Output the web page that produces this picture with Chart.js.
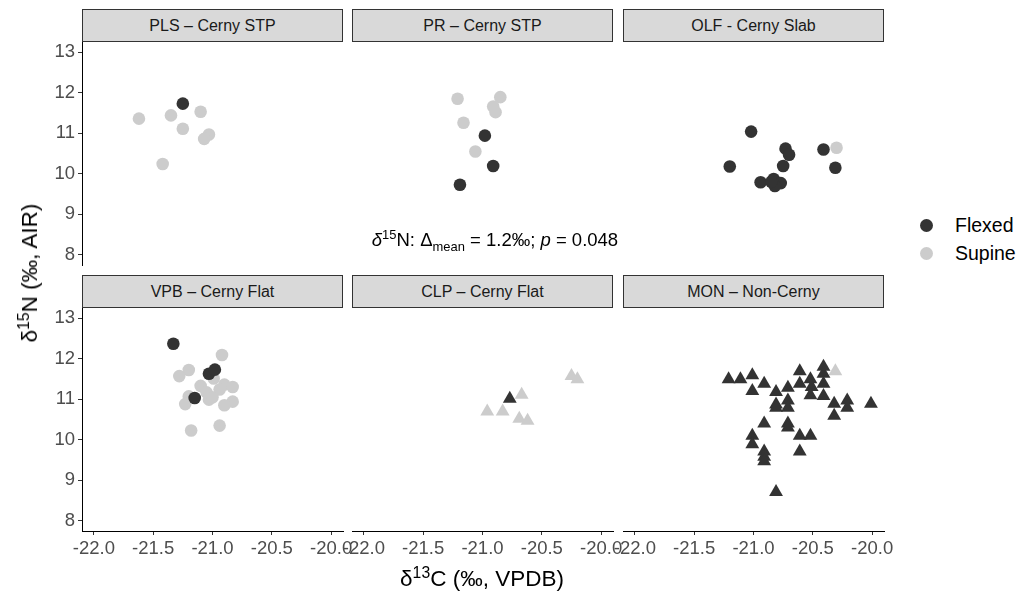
<!DOCTYPE html>
<html>
<head>
<meta charset="utf-8">
<script src="https://cdn.jsdelivr.net/npm/chart.js@4.4.0/dist/chart.umd.min.js"></script>
<style>
  body { margin: 0; width: 1019px; height: 594px; background: #fff; position: relative; overflow: hidden;
         font-family: "Liberation Sans", Arial, sans-serif; }
  canvas { position: absolute; }
  .strip { position: absolute; box-sizing: border-box; background: #d9d9d9; border: 1px solid #333;
           font-size: 16px; color: #1a1a1a; display: flex; align-items: center; justify-content: center; }
  .txt { position: absolute; white-space: nowrap; color: #000; }
  sup, sub { font-size: 0.7em; line-height: 0; }
  .key { position: absolute; width: 13px; height: 13px; border-radius: 50%; }
</style>
</head>
<body>
<script>
// d13C / d15N pairs per site and burial position
var plsFlexed = [[-21.25, 11.73]];
var plsSupine = [[-21.62, 11.36], [-21.35, 11.44], [-21.10, 11.53], [-21.25, 11.11],
                 [-21.03, 10.97], [-21.07, 10.86], [-21.42, 10.24]];

var prFlexed = [[-20.98, 10.94], [-20.91, 10.19], [-21.19, 9.73]];
var prSupine = [[-21.21, 11.85], [-20.85, 11.89], [-20.91, 11.66], [-20.89, 11.52],
                [-21.16, 11.26], [-21.06, 10.55]];

var olfFlexed = [[-21.02, 11.04], [-20.73, 10.62], [-20.70, 10.47], [-20.41, 10.60],
                 [-21.20, 10.18], [-20.75, 10.19], [-20.31, 10.15], [-20.94, 9.79],
                 [-20.83, 9.87], [-20.77, 9.77], [-20.82, 9.70], [-20.85, 9.80]];
var olfSupine = [[-20.30, 10.64]];

var vpbFlexed = [[-21.33, 12.37], [-21.03, 11.63], [-20.98, 11.73], [-21.15, 11.03]];
var vpbSupine = [[-20.92, 12.09], [-21.20, 11.72], [-21.28, 11.57], [-20.99, 11.51],
                 [-21.10, 11.33], [-20.90, 11.36], [-20.83, 11.30], [-20.94, 11.24],
                 [-21.05, 11.17], [-21.20, 11.07], [-21.03, 10.99], [-21.00, 11.05],
                 [-20.83, 10.94], [-20.90, 10.85], [-21.23, 10.88], [-20.94, 10.35],
                 [-21.18, 10.23]];

var clpFlexed = [[-20.77, 11.01]];
var clpSupine = [[-20.25, 11.57], [-20.20, 11.49], [-20.67, 11.11], [-20.96, 10.70],
                 [-20.83, 10.70], [-20.69, 10.52], [-20.62, 10.47]];

var monFlexed = [[-21.21, 11.49], [-21.11, 11.49], [-21.01, 11.59], [-20.91, 11.38],
                 [-21.01, 11.20], [-20.81, 11.18], [-20.71, 11.28], [-20.61, 11.69],
                 [-20.61, 11.38], [-20.52, 11.49], [-20.51, 11.30], [-20.52, 11.10],
                 [-20.41, 11.80], [-20.41, 11.63], [-20.41, 11.38], [-20.41, 11.08],
                 [-20.71, 10.97], [-20.81, 10.87], [-20.71, 10.79], [-20.81, 10.79],
                 [-20.32, 10.89], [-20.21, 10.97], [-20.21, 10.79], [-20.32, 10.59],
                 [-20.01, 10.89], [-20.91, 10.40], [-20.71, 10.40], [-20.71, 10.30],
                 [-20.61, 10.10], [-20.52, 10.10], [-21.01, 10.10], [-21.01, 9.89],
                 [-20.61, 9.71], [-20.91, 9.71], [-20.91, 9.58], [-20.91, 9.47],
                 [-20.81, 8.71]];
var monSupine = [[-20.31, 11.69]];

var panelTitles = ['PLS \u2013 Cerny STP', 'PR \u2013 Cerny STP', 'OLF - Cerny Slab',
                   'VPB \u2013 Cerny Flat', 'CLP \u2013 Cerny Flat', 'MON \u2013 Non-Cerny'];
var panelFlexed = [plsFlexed, prFlexed, olfFlexed, vpbFlexed, clpFlexed, monFlexed];
var panelSupine = [plsSupine, prSupine, olfSupine, vpbSupine, clpSupine, monSupine];
var panelShapes = ['circle', 'circle', 'circle', 'circle', 'triangle', 'triangle'];

var xTicks = [-22.0, -21.5, -21.0, -20.5, -20.0];
var xTickLabels = ['-22.0', '-21.5', '-21.0', '-20.5', '-20.0'];
var yTicks = [8, 9, 10, 11, 12, 13];
var yTickLabels = ['8', '9', '10', '11', '12', '13'];
var xRange = [-22.1, -19.9];
var yRange = [7.75, 13.25];

var DARK = '#333333';
var LIGHT = '#cccccc';

// panel geometry
var colLeft = [82, 352, 623];
var rowTop = [42, 308];
var stripTop = [9, 275];
var panelW = 261, panelH = 223;
var PAD = 18, YAXIS_W = 44, XAXIS_H = 34;

var tickFont = {family: '"Liberation Sans", Arial, sans-serif', size: 18.5};

function makePanel(i) {
  var col = i % 3, row = Math.floor(i / 3);
  var showY = col === 0, showX = row === 1;

  var strip = document.createElement('div');
  strip.className = 'strip';
  strip.style.left = colLeft[col] + 'px';
  strip.style.top = stripTop[row] + 'px';
  strip.style.width = panelW + 'px';
  strip.style.height = (rowTop[row] - stripTop[row]) + 'px';
  strip.textContent = panelTitles[i];
  document.body.appendChild(strip);

  var canvas = document.createElement('canvas');
  var w = panelW + 2 * PAD + (showY ? YAXIS_W : 0);
  var h = panelH + 2 * PAD + (showX ? XAXIS_H : 0);
  canvas.width = w;
  canvas.height = h;
  canvas.style.width = w + 'px';
  canvas.style.height = h + 'px';
  canvas.style.left = (colLeft[col] - PAD - (showY ? YAXIS_W : 0)) + 'px';
  canvas.style.top = (rowTop[row] - PAD) + 'px';
  document.body.appendChild(canvas);

  var radius = panelShapes[i] === 'triangle' ? 8 : 6.3;
  var toXY = function (p) { return {x: p[0], y: p[1]}; };

  new Chart(canvas, {
    type: 'scatter',
    data: {
      datasets: [
        {label: 'Flexed', data: panelFlexed[i].map(toXY), pointStyle: panelShapes[i],
         pointRadius: radius, pointBackgroundColor: DARK, pointBorderWidth: 0, backgroundColor: DARK},
        {label: 'Supine', data: panelSupine[i].map(toXY), pointStyle: panelShapes[i],
         pointRadius: radius, pointBackgroundColor: LIGHT, pointBorderWidth: 0, backgroundColor: LIGHT}
      ]
    },
    options: {
      responsive: false,
      animation: false,
      events: [],
      clip: false,
      layout: {padding: PAD},
      plugins: {legend: {display: false}, tooltip: {enabled: false}},
      scales: {
        x: {
          type: 'linear', min: xRange[0], max: xRange[1], bounds: 'data', display: showX,
          afterBuildTicks: function (s) { s.ticks = xTicks.map(function (v) { return {value: v}; }); },
          afterFit: function (s) { s.height = showX ? XAXIS_H : 0; },
          ticks: {font: tickFont, color: '#4d4d4d', padding: 3, maxRotation: 0, autoSkip: false,
                  callback: function (v, idx) { return xTickLabels[idx]; }},
          grid: {drawOnChartArea: false, drawTicks: true, tickLength: 4, color: DARK, tickColor: DARK},
          border: {display: true, color: '#000', width: 1}
        },
        y: {
          type: 'linear', min: yRange[0], max: yRange[1], bounds: 'data', display: showY,
          afterBuildTicks: function (s) { s.ticks = yTicks.map(function (v) { return {value: v}; }); },
          afterFit: function (s) { s.width = showY ? YAXIS_W : 0; },
          ticks: {font: tickFont, color: '#4d4d4d', padding: 3, autoSkip: false,
                  callback: function (v, idx) { return yTickLabels[idx]; }},
          grid: {drawOnChartArea: false, drawTicks: true, tickLength: 4, color: DARK, tickColor: DARK},
          border: {display: true, color: '#000', width: 1}
        }
      }
    }
  });
}

for (var i = 0; i < panelTitles.length; i++) {
  makePanel(i);
}

function addText(html, x, y, size, extra) {
  var d = document.createElement('div');
  d.className = 'txt';
  d.innerHTML = html;
  d.style.fontSize = size + 'px';
  d.style.left = x + 'px';
  d.style.top = y + 'px';
  d.style.transform = 'translate(-50%, -50%)' + (extra || '');
  document.body.appendChild(d);
  return d;
}

// axis titles
addText('\u03b4<sup>13</sup>C (\u2030, VPDB)', 482, 579, 22.5);
addText('\u03b4<sup>15</sup>N (\u2030, AIR)', 30, 273, 22.5, ' rotate(-90deg)');

// test annotation
addText('<i>\u03b4</i><sup>15</sup>N: \u0394<sub>mean</sub> = 1.2\u2030; <i>p</i> = 0.048', 495, 240, 18.5);

// legend
var legendLabels = ['Flexed', 'Supine'];
var legendColors = [DARK, LIGHT];
var legendY = [225, 253];
for (var k = 0; k < legendLabels.length; k++) {
  var key = document.createElement('div');
  key.className = 'key';
  key.style.background = legendColors[k];
  key.style.left = (926.5 - 6.5) + 'px';
  key.style.top = (legendY[k] - 6.5) + 'px';
  document.body.appendChild(key);
  var lab = document.createElement('div');
  lab.className = 'txt';
  lab.textContent = legendLabels[k];
  lab.style.fontSize = '19.5px';
  lab.style.left = '955px';
  lab.style.top = legendY[k] + 'px';
  lab.style.transform = 'translateY(-50%)';
  document.body.appendChild(lab);
}
</script>
</body>
</html>
